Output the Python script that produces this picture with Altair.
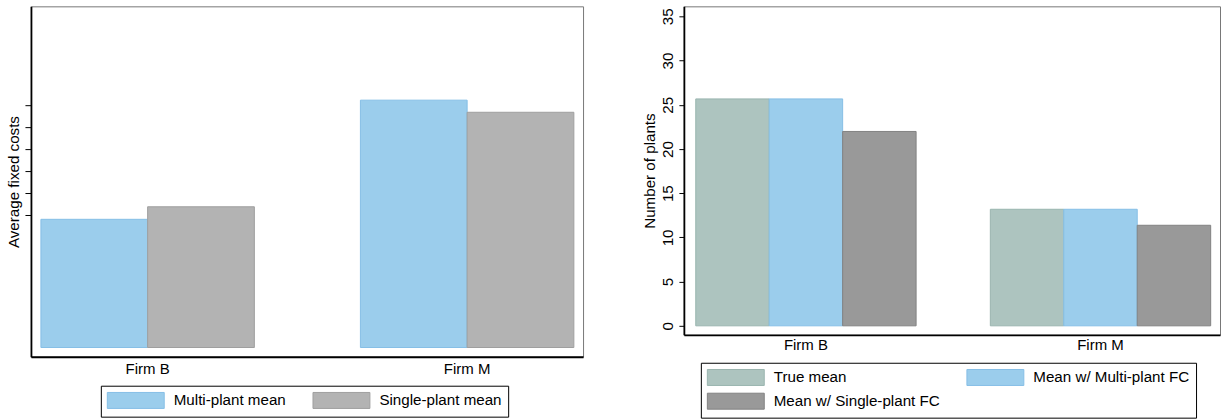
import altair as alt
import pandas as pd

firms = ["Firm B", "Firm M"]

left_series = ["Multi-plant mean", "Single-plant mean"]
left_multi = [5.82, 11.23]
left_single = [6.39, 10.68]
left_ticks = [6, 7, 8, 9, 10, 11]
left_fill = ["#9BCDEC", "#B3B3B3"]
left_line = ["#86BFE6", "#9F9F9F"]

right_series = ["True mean", "Mean w/ Multi-plant FC", "Mean w/ Single-plant FC"]
right_true = [25.66, 13.18]
right_multi = [25.66, 13.18]
right_single = [21.98, 11.37]
right_ticks = [0, 5, 10, 15, 20, 25, 30, 35]
right_fill = ["#ADC4BF", "#9BCDEC", "#999999"]
right_line = ["#9AB5AF", "#86BFE6", "#828282"]

left_df = pd.DataFrame({
    "firm": firms * 2,
    "series": [left_series[0]] * 2 + [left_series[1]] * 2,
    "value": left_multi + left_single,
})
right_df = pd.DataFrame({
    "firm": firms * 3,
    "series": [right_series[0]] * 2 + [right_series[1]] * 2 + [right_series[2]] * 2,
    "value": right_true + right_multi + right_single,
})

FONT = "Liberation Sans"
SYM = "M-1,-1H6.125V1H-1Z"


def legend(x, y, colpad):
    return alt.Legend(
        title=None, orient="none", legendX=x, legendY=y,
        direction="horizontal", columns=2, columnPadding=colpad, rowPadding=3,
        gridAlign="each",
        padding=6, strokeColor="black",
        symbolType=SYM, symbolSize=256, symbolStrokeWidth=1, symbolOpacity=1,
        labelOffset=50, labelFont=FONT, labelFontSize=15.2, labelColor="black",
        labelLimit=240, fillColor="white",
    )


def xaxis(pad):
    return alt.Axis(
        title=None, labelAngle=0, ticks=False, tickSize=0, labelPadding=pad,
        domainColor="black", domainWidth=1.8, labelFont=FONT, labelFontSize=15,
        labelColor="black", grid=False,
    )


left = alt.Chart(left_df).mark_bar(strokeWidth=1).encode(
    x=alt.X("firm:N", sort=firms,
            scale=alt.Scale(paddingInner=0.332, paddingOuter=0.03, align=0.52),
            axis=xaxis(5)),
    xOffset=alt.XOffset("series:N", sort=left_series,
                        scale=alt.Scale(paddingInner=0, paddingOuter=0)),
    y=alt.Y("value:Q",
            scale=alt.Scale(domain=[-0.42, 15.49], nice=False, zero=False),
            axis=alt.Axis(values=left_ticks, labels=False, tickSize=6, tickColor="black",
                          domainColor="black", domainWidth=1.8, grid=False,
                          title="Average fixed costs", titleFont=FONT, titleFontSize=15.2,
                          titleFontWeight="normal", titleColor="black",
                          titlePadding=6, titleBaseline="alphabetic")),
    y2=alt.datum(0),
    color=alt.Color("series:N", sort=left_series,
                    scale=alt.Scale(domain=left_series, range=left_fill),
                    legend=legend(70, 380, 24)),
    stroke=alt.Stroke("series:N", sort=left_series,
                      scale=alt.Scale(domain=left_series, range=left_line)),
).properties(width=553, height=351)

right = alt.Chart(right_df).mark_bar(strokeWidth=1).encode(
    x=alt.X("firm:N", sort=firms,
            scale=alt.Scale(paddingInner=0.252, paddingOuter=0.036, align=0.56),
            axis=xaxis(3)),
    xOffset=alt.XOffset("series:N", sort=right_series,
                        scale=alt.Scale(paddingInner=0, paddingOuter=0)),
    y=alt.Y("value:Q",
            scale=alt.Scale(domain=[-1.016, 36.13], nice=False, zero=False),
            axis=alt.Axis(values=right_ticks, tickSize=5, tickColor="black",
                          domainColor="black", domainWidth=1.8, grid=False,
                          labelAngle=-90, labelAlign="center", labelBaseline="alphabetic",
                          labelPadding=6.5, labelFont=FONT, labelFontSize=15.2,
                          labelColor="black",
                          title="Number of plants", titleFont=FONT, titleFontSize=15.2,
                          titleFontWeight="normal", titleColor="black",
                          titlePadding=6, titleBaseline="alphabetic")),
    y2=alt.datum(0),
    color=alt.Color("series:N", sort=right_series,
                    scale=alt.Scale(domain=right_series, range=right_fill),
                    legend=legend(17, 357, 24)),
    stroke=alt.Stroke("series:N", sort=right_series,
                      scale=alt.Scale(domain=right_series, range=right_line)),
).properties(width=537, height=329)

chart = alt.hconcat(left, right, spacing=58).resolve_scale(
    color="independent", stroke="independent", y="independent", x="independent",
    xOffset="independent",
).configure(
    padding={"left": 6, "top": 5, "right": 4, "bottom": 4},
    background="white",
    font=FONT,
).configure_view(
    stroke="#777777", strokeWidth=1,
)

chart.save("out.html", embed_options={"renderer": "svg", "actions": False})
